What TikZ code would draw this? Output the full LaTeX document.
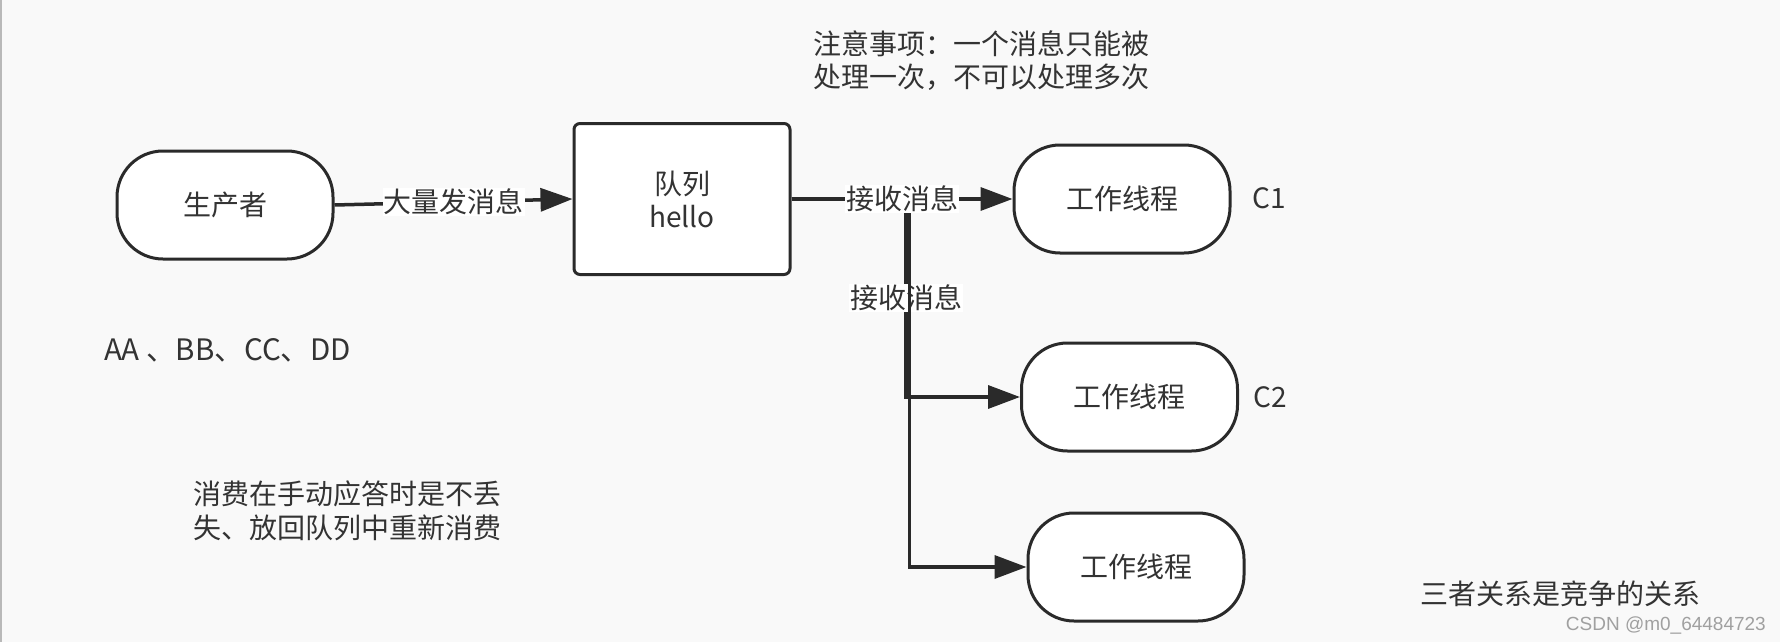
\documentclass[tikz,border=0pt]{standalone}
\usepackage{fontspec}
\setmainfont{Noto Sans CJK SC}
\newfontfamily\wmfont{Liberation Sans}
\usetikzlibrary{arrows.meta}
\definecolor{bgc}{HTML}{F9F9F9}
\definecolor{ink}{HTML}{333333}
\definecolor{edgec}{HTML}{2A2A2A}
\definecolor{wmc}{HTML}{A0A0A0}
\begin{document}
\begin{tikzpicture}[x=1pt,y=-1pt,
  every node/.style={text=ink},
  term/.style={draw=edgec, line width=3pt, fill=white, rounded corners=46pt,
    minimum width=216pt, minimum height=108pt, inner sep=0pt,
    font=\fontsize{28}{34}\selectfont},
  queuebox/.style={draw=edgec, line width=3pt, fill=white, rounded corners=6pt,
    minimum width=216pt, minimum height=151pt, inner sep=0pt, align=center,
    font=\fontsize{28}{33}\selectfont},
  conn/.style={draw=edgec, line width=3.5pt, -{Triangle[length=32pt,width=23pt]}},
  elabel/.style={fill=white, inner sep=1pt, font=\fontsize{28}{34}\selectfont},
  note/.style={inner sep=0pt, anchor=west, align=left, font=\fontsize{28}{34}\selectfont}
]
\useasboundingbox (0,0) rectangle (1780,642);
\fill[bgc] (0,0) rectangle (1780,642);
\draw[gray!55, line width=1.5pt] (0.75,0) -- (0.75,642);

% nodes
\node[term] (prod) at (225,205) {生产者};
\node[queuebox] (q) at (682,199) {队列\\hello};
\node[term] (w1) at (1122,199) {工作线程};
\node[term] (w2) at (1129.5,397) {工作线程};
\node[term] (w3) at (1136,567) {工作线程};

% free texts
\node[note, font=\fontsize{28}{33}\selectfont] (tip) at (813,60.5) {注意事项：一个消息只能被\\处理一次，不可以处理多次};
\node[note, font=\fontsize{29.5}{34}\selectfont] (names) at (104,350) {AA 、BB、CC、DD};
\node[note] (ack) at (193,511) {消费在手动应答时是不丢\\失、放回队列中重新消费};
\node[note] (rel) at (1420,594) {三者关系是竞争的关系};
\node[note] (c1) at (1252,198) {C1};
\node[note] (c2) at (1253,397) {C2};
\node[inner sep=0pt, anchor=east, text=wmc, font=\wmfont\fontsize{19}{22}\selectfont] (wm) at (1766,625) {CSDN @m0\_64484723};

% connectors
\coordinate (b2top) at (906,199);
\coordinate (b2bot) at (906,397);
\coordinate (b3top) at (909.5,199);
\coordinate (b3bot) at (909.5,567);
\draw[conn] (prod.east) -- node[elabel] {大量发消息} (q.west);
\draw[conn] (q.east) -- (b2top) -- node[elabel] {接收消息} (b2bot) -- (w2.west);
\draw[conn] (q.east) -- (b3top) -- (b3bot) -- (w3.west);
\draw[conn] (q.east) -- node[elabel] {接收消息} (w1.west);
\end{tikzpicture}
\end{document}
